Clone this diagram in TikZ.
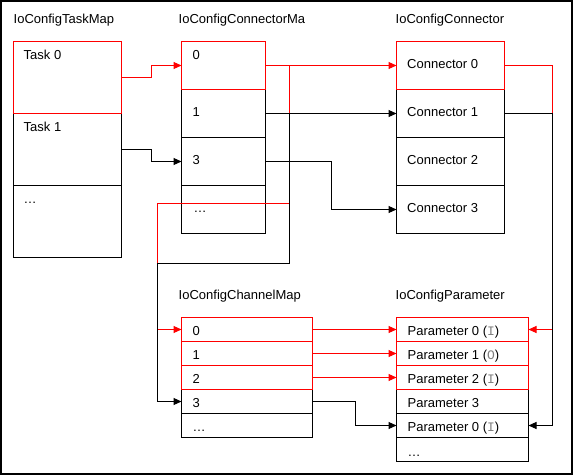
\documentclass[tikz,border=0pt]{standalone}
\usepackage{fontspec}
\setmainfont{Liberation Sans}
\setmonofont{Liberation Mono}
\usetikzlibrary{arrows.meta}
\newcommand{\pdir}[1]{(\texttt{\textcolor{gray}{#1}})}

\begin{document}
\begin{tikzpicture}[x=1pt,y=-1pt,font=\fontsize{13pt}{15pt}\selectfont]
    \tikzset{cell/.style = {draw=#1, anchor=north west, inner sep=0pt, outer sep=0pt, line width=1pt}}
    \tikzset{txt/.style = {anchor=base west, inner sep=0pt}}
    \tikzset{edge/.style = {-{Triangle[length=8pt,width=7pt]}, line width=1pt, draw=#1}}
    \useasboundingbox (-0.5,-0.5) rectangle (572.5,474.5);
    \node[draw, line width=2pt, anchor=north west, inner sep=0pt, outer sep=0pt, minimum width=571pt, minimum height=473pt] (frame) at (0.5,0.5) {};

    % titles
    \node[txt] (tmTitle) at (13,23) {IoConfigTaskMap};
    \node[txt] (cmTitle) at (178,23) {IoConfigConnectorMa};
    \node[txt] (cTitle) at (395,23) {IoConfigConnector};
    \node[txt] (chTitle) at (178,299) {IoConfigChannelMap};
    \node[txt] (pTitle) at (395,299) {IoConfigParameter};

    % task map
    \foreach \i/\col in {2/black, 1/black, 0/red}
        \node[cell=\col, minimum width=108pt, minimum height=72pt] (tm\i) at (13,41+72*\i) {};
    \node[txt] (tm0t) at (23,59) {Task 0};
    \node[txt] (tm1t) at (23,131) {Task 1};
    \node[txt] (tm2t) at (23,203) {…};

    % connector map
    \foreach \i/\col in {3/black, 2/black, 1/black, 0/red}
        \node[cell=\col, minimum width=84pt, minimum height=48pt] (cm\i) at (181,41+48*\i) {};
    \node[txt] (cm0t) at (192,59) {0};
    \node[txt] (cm1t) at (192,115.5) {1};
    \node[txt] (cm2t) at (192,164) {3};
    \node[txt] (cm3t) at (193,212) {…};

    % connectors
    \foreach \i/\col in {3/black, 2/black, 1/black, 0/red} {
        \node[cell=\col, minimum width=108pt, minimum height=48pt] (c\i) at (396,41+48*\i) {};
        \node[txt] (c\i t) at (406.5,67.5+48*\i) {Connector \i};
    }

    % channel map
    \foreach \i/\col in {4/black, 3/black, 2/red, 1/red, 0/red}
        \node[cell=\col, minimum width=131pt, minimum height=24pt] (ch\i) at (181,317+24*\i) {};
    \foreach \i/\t in {0/0, 1/1, 2/2, 3/3, 4/…}
        \node[txt] (ch\i t) at (192,335+24*\i) {\t};

    % parameters
    \foreach \i/\col in {5/black, 4/black, 3/black, 2/red, 1/red, 0/red}
        \node[cell=\col, minimum width=132pt, minimum height=24pt] (p\i) at (396,317+24*\i) {};
    \node[txt] (p0t) at (407,335) {Parameter 0 \pdir{I}};
    \node[txt] (p1t) at (407,359) {Parameter 1 \pdir{O}};
    \node[txt] (p2t) at (407,383) {Parameter 2 \pdir{I}};
    \node[txt] (p3t) at (407,407) {Parameter 3};
    \node[txt] (p4t) at (407,431) {Parameter 0 \pdir{I}};
    \node[txt] (p5t) at (407,456) {…};

    \coordinate (rj) at (289,203);
    \coordinate (bj) at (289,263);

    % red links
    \draw[edge=red] (tm0.east) -- ++(30,0) |- (cm0.west);
    \draw[edge=red] (cm0.east) -- (c0.west);
    \draw[edge=red] (cm0.east) -| (rj) -| ([xshift=-24pt]ch0.west) -- (ch0.west);
    \draw[edge=red] (c0.east) -- ++(48,0) |- (p0.east);
    \draw[edge=red] (ch0.east) -- (p0.west);
    \draw[edge=red] (ch1.east) -- (p1.west);
    \draw[edge=red] (ch2.east) -- (p2.west);

    % black links
    \draw[edge=black] (tm1.east) -- ++(30,0) |- (cm2.west);
    \draw[edge=black] (cm1.east) -- (c1.west);
    \draw[edge=black] (cm1.east) -| (bj) -| ([xshift=-24pt]ch3.west) -- (ch3.west);
    \draw[edge=black] (cm2.east) -- ++(66,0) |- (c3.west);
    \draw[edge=black] (c1.east) -- ++(48,0) |- (p4.east);
    \draw[edge=black] (ch3.east) -- ++(43,0) |- (p4.west);
\end{tikzpicture}
\end{document}
